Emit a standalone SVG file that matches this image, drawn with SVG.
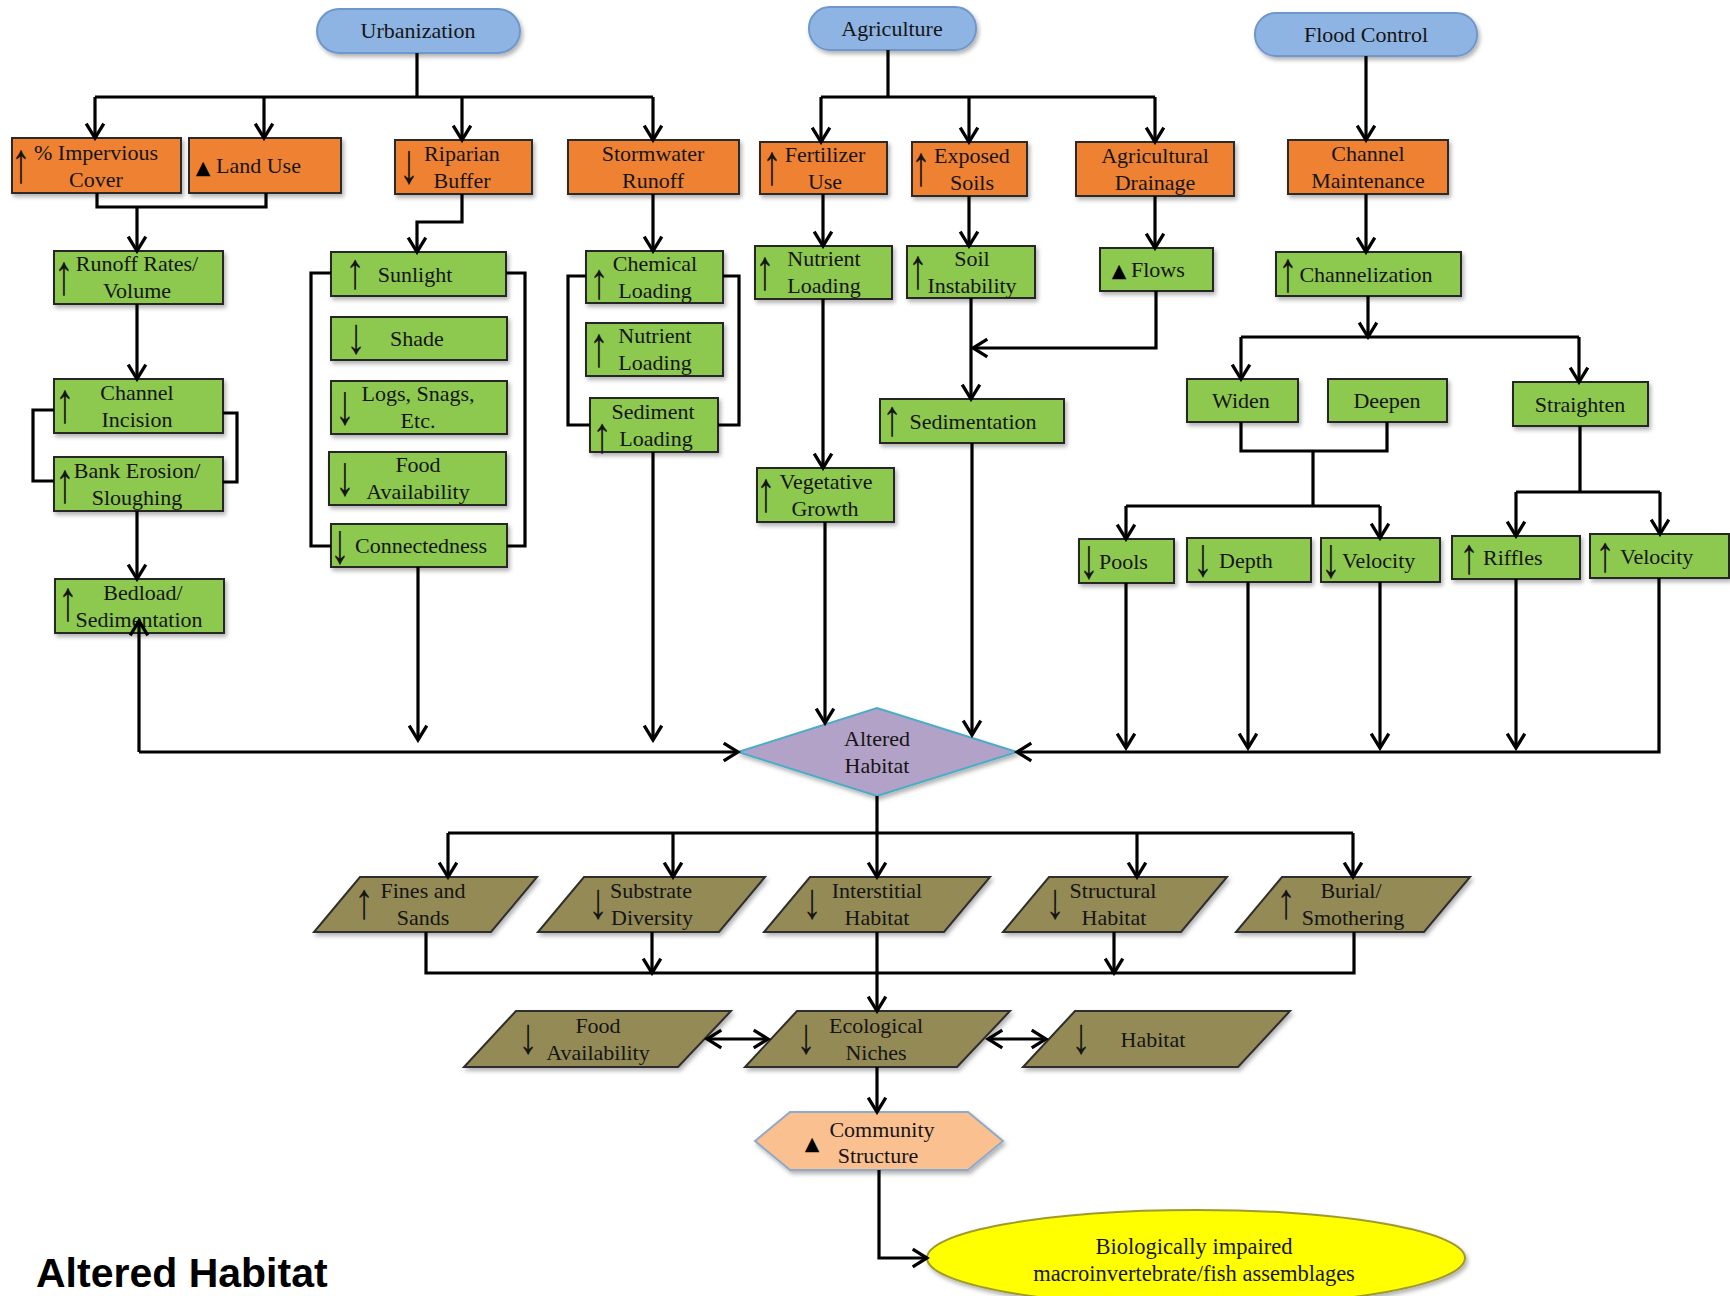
<svg xmlns="http://www.w3.org/2000/svg" width="1730" height="1296" viewBox="0 0 1730 1296">
<style>
.t{font-family:"Liberation Serif","Times New Roman",serif;font-size:22px;fill:#151515;text-anchor:middle}
.ts{font-family:"Liberation Serif","Times New Roman",serif;font-size:22px;fill:#151515}
.ar{font-family:"Liberation Serif","DejaVu Serif",serif;font-size:44px;fill:#151515;text-anchor:middle}
.tri{font-family:"DejaVu Sans",sans-serif;font-size:19px;fill:#000;text-anchor:middle}
.pill{fill:#8EB4E3;stroke:#6F97CC;stroke-width:2;filter:url(#sh)}
.or{fill:#EF8232;stroke:#2a2a2a;stroke-width:2;filter:url(#sh)}
.gr{fill:#8DC850;stroke:#262626;stroke-width:2;filter:url(#sh)}
.ol{fill:#948A54;stroke:#2e2e2e;stroke-width:2;filter:url(#sh)}
.con{fill:none;stroke:#000;stroke-width:3.2}
.a{marker-end:url(#ah)}
</style>
<defs>
<filter id="sh" x="-10%" y="-10%" width="130%" height="140%">
<feDropShadow dx="2" dy="3" stdDeviation="2" flood-color="#000" flood-opacity="0.3"/>
</filter>
<marker id="ah" markerUnits="userSpaceOnUse" markerWidth="20" markerHeight="22" viewBox="-15 -10 17 20" refX="0" refY="0" orient="auto-start-reverse">
<path d="M-13,-8 L0,0 L-13,8" fill="none" stroke="#000" stroke-width="3"/>
</marker>
</defs>
<rect width="1730" height="1296" fill="#fff"/>

<g id="urbanization"><rect class="pill" x="317" y="9" width="203" height="44" rx="22"/><text class="t" x="418" y="38">Urbanization</text></g>
<g id="agriculture"><rect class="pill" x="809" y="7" width="167" height="43" rx="21"/><text class="t" x="892" y="36">Agriculture</text></g>
<g id="flood-control"><rect class="pill" x="1255" y="13" width="222" height="43" rx="21"/><text class="t" x="1366" y="42">Flood Control</text></g>

<g id="impervious"><rect class="or" x="12" y="138" width="169" height="55"/><text class="ar" transform="translate(21,181.5) scale(0.9,1.3)">↑</text><text class="t" x="96" y="160">% Impervious</text><text class="t" x="96" y="187">Cover</text></g>
<g id="land-use"><rect class="or" x="189" y="138" width="152" height="55"/><text class="tri" x="203" y="174">▲</text><text class="ts" x="216" y="173">Land Use</text></g>
<g id="riparian"><rect class="or" x="395" y="140" width="137" height="54"/><text class="ar" transform="translate(409,183) scale(0.9,1.3)">↓</text><text class="t" x="462" y="161">Riparian</text><text class="t" x="462" y="188">Buffer</text></g>
<g id="stormwater"><rect class="or" x="568" y="140" width="171" height="54"/><text class="t" x="653" y="161">Stormwater</text><text class="t" x="653" y="188">Runoff</text></g>
<g id="fertilizer"><rect class="or" x="760" y="142" width="127" height="52"/><text class="ar" transform="translate(772,184) scale(0.9,1.3)">↑</text><text class="t" x="825" y="162">Fertilizer</text><text class="t" x="825" y="189">Use</text></g>
<g id="exposed-soils"><rect class="or" x="912" y="142" width="115" height="54"/><text class="ar" transform="translate(921,185) scale(0.9,1.3)">↑</text><text class="t" x="972" y="163">Exposed</text><text class="t" x="972" y="190">Soils</text></g>
<g id="ag-drainage"><rect class="or" x="1076" y="142" width="158" height="54"/><text class="t" x="1155" y="163">Agricultural</text><text class="t" x="1155" y="190">Drainage</text></g>
<g id="channel-maintenance"><rect class="or" x="1288" y="140" width="160" height="54"/><text class="t" x="1368" y="161">Channel</text><text class="t" x="1368" y="188">Maintenance</text></g>

<g id="runoff-rates"><rect class="gr" x="54" y="251" width="169" height="53"/><text class="ar" transform="translate(64,293.5) scale(0.9,1.3)">↑</text><text class="t" x="137" y="271">Runoff Rates/</text><text class="t" x="137" y="298">Volume</text></g>
<g id="channel-incision"><rect class="gr" x="54" y="379" width="169" height="54"/><text class="ar" transform="translate(65,422) scale(0.9,1.3)">↑</text><text class="t" x="137" y="400">Channel</text><text class="t" x="137" y="427">Incision</text></g>
<g id="bank-erosion"><rect class="gr" x="54" y="457" width="169" height="54"/><text class="ar" transform="translate(65,502) scale(0.9,1.3)">↑</text><text class="t" x="137" y="478">Bank Erosion/</text><text class="t" x="137" y="505">Sloughing</text></g>
<g id="bedload"><rect class="gr" x="55" y="579" width="169" height="54"/><text class="ar" transform="translate(68,620) scale(0.9,1.3)">↑</text><text class="t" x="143" y="600">Bedload/</text><text class="t" x="139" y="627">Sedimentation</text></g>

<g id="sunlight"><rect class="gr" x="331" y="252" width="175" height="44"/><text class="ar" transform="translate(355,288) scale(0.9,1.15)">↑</text><text class="t" x="415" y="282">Sunlight</text></g>
<g id="shade"><rect class="gr" x="331" y="317" width="176" height="43"/><text class="ar" transform="translate(356,353) scale(0.9,1.15)">↓</text><text class="t" x="417" y="346">Shade</text></g>
<g id="logs"><rect class="gr" x="331" y="381" width="176" height="53"/><text class="ar" transform="translate(345,423.5) scale(0.9,1.3)">↓</text><text class="t" x="418" y="401">Logs, Snags,</text><text class="t" x="418" y="428">Etc.</text></g>
<g id="food-availability-1"><rect class="gr" x="329" y="452" width="177" height="53"/><text class="ar" transform="translate(345,494.5) scale(0.9,1.3)">↓</text><text class="t" x="418" y="472">Food</text><text class="t" x="418" y="499">Availability</text></g>
<g id="connectedness"><rect class="gr" x="331" y="524" width="176" height="43"/><text class="ar" transform="translate(340,563) scale(0.9,1.3)">↓</text><text class="t" x="421" y="553">Connectedness</text></g>

<g id="chemical-loading"><rect class="gr" x="586" y="251" width="137" height="52"/><text class="ar" transform="translate(599,298) scale(0.9,1.15)">↑</text><text class="t" x="655" y="271">Chemical</text><text class="t" x="655" y="298">Loading</text></g>
<g id="nutrient-loading-1"><rect class="gr" x="586" y="323" width="137" height="53"/><text class="ar" transform="translate(599,366) scale(0.9,1.3)">↑</text><text class="t" x="655" y="343">Nutrient</text><text class="t" x="655" y="370">Loading</text></g>
<g id="sediment-loading"><rect class="gr" x="590" y="398" width="128" height="54"/><text class="ar" transform="translate(602,452) scale(0.9,1.15)">↑</text><text class="t" x="653" y="419">Sediment</text><text class="t" x="656" y="446">Loading</text></g>

<g id="nutrient-loading-2"><rect class="gr" x="755" y="246" width="137" height="53"/><text class="ar" transform="translate(765,289) scale(0.9,1.3)">↑</text><text class="t" x="824" y="266">Nutrient</text><text class="t" x="824" y="293">Loading</text></g>
<g id="vegetative-growth"><rect class="gr" x="757" y="468" width="137" height="54"/><text class="ar" transform="translate(766,511) scale(0.9,1.3)">↑</text><text class="t" x="826" y="489">Vegetative</text><text class="t" x="825" y="516">Growth</text></g>
<g id="soil-instability"><rect class="gr" x="907" y="246" width="128" height="52"/><text class="ar" transform="translate(918,288) scale(0.9,1.3)">↑</text><text class="t" x="972" y="266">Soil</text><text class="t" x="972" y="293">Instability</text></g>
<g id="flows"><rect class="gr" x="1100" y="248" width="113" height="43"/><text class="tri" x="1119" y="277">▲</text><text class="ts" x="1131" y="277">Flows</text></g>
<g id="sedimentation"><rect class="gr" x="880" y="399" width="184" height="44"/><text class="ar" transform="translate(892,435) scale(0.9,1.15)">↑</text><text class="t" x="973" y="429">Sedimentation</text></g>

<g id="channelization"><rect class="gr" x="1276" y="252" width="185" height="44"/><text class="ar" transform="translate(1288,291) scale(0.9,1.3)">↑</text><text class="t" x="1366" y="282">Channelization</text></g>
<g id="widen"><rect class="gr" x="1187" y="379" width="111" height="43"/><text class="t" x="1241" y="408">Widen</text></g>
<g id="deepen"><rect class="gr" x="1328" y="379" width="119" height="43"/><text class="t" x="1387" y="408">Deepen</text></g>
<g id="straighten"><rect class="gr" x="1513" y="382" width="135" height="44"/><text class="t" x="1580" y="412">Straighten</text></g>
<g id="pools"><rect class="gr" x="1079" y="539" width="95" height="44"/><text class="ar" transform="translate(1089,578) scale(0.9,1.3)">↓</text><text class="ts" x="1099" y="569">Pools</text></g>
<g id="depth"><rect class="gr" x="1187" y="538" width="124" height="44"/><text class="ar" transform="translate(1203,576) scale(0.9,1.25)">↓</text><text class="ts" x="1219" y="568">Depth</text></g>
<g id="velocity-down"><rect class="gr" x="1321" y="538" width="119" height="44"/><text class="ar" transform="translate(1331,577) scale(0.9,1.3)">↓</text><text class="ts" x="1342" y="568">Velocity</text></g>
<g id="riffles"><rect class="gr" x="1452" y="536" width="128" height="43"/><text class="ar" transform="translate(1469,573) scale(0.9,1.15)">↑</text><text class="ts" x="1483" y="565">Riffles</text></g>
<g id="velocity-up"><rect class="gr" x="1590" y="534" width="139" height="44"/><text class="ar" transform="translate(1605,571) scale(0.9,1.15)">↑</text><text class="ts" x="1620" y="564">Velocity</text></g>

<g id="altered-habitat"><polygon points="738,752 877,708 1017,752 877,796" fill="#B3A2C7" stroke="#4BACC6" stroke-width="2" filter="url(#sh)"/><text class="t" x="877" y="746">Altered</text><text class="t" x="877" y="773">Habitat</text></g>

<g id="fines-sands"><polygon class="ol" points="360,877 537,877 491,932 314,932"/><text class="ar" transform="translate(364,918) scale(0.9,1.15)">↑</text><text class="t" x="423" y="898">Fines and</text><text class="t" x="423" y="925">Sands</text></g>
<g id="substrate-diversity"><polygon class="ol" points="584,877 765,877 719,932 538,932"/><text class="ar" transform="translate(598,918) scale(0.9,1.15)">↓</text><text class="t" x="651" y="898">Substrate</text><text class="t" x="652" y="925">Diversity</text></g>
<g id="interstitial-habitat"><polygon class="ol" points="810,877 990,877 944,932 764,932"/><text class="ar" transform="translate(812,918) scale(0.9,1.15)">↓</text><text class="t" x="877" y="898">Interstitial</text><text class="t" x="877" y="925">Habitat</text></g>
<g id="structural-habitat"><polygon class="ol" points="1049,877 1227,877 1181,932 1003,932"/><text class="ar" transform="translate(1055,918) scale(0.9,1.15)">↓</text><text class="t" x="1113" y="898">Structural</text><text class="t" x="1114" y="925">Habitat</text></g>
<g id="burial-smothering"><polygon class="ol" points="1282,877 1470,877 1424,932 1236,932"/><text class="ar" transform="translate(1286,918) scale(0.9,1.15)">↑</text><text class="t" x="1351" y="898">Burial/</text><text class="t" x="1353" y="925">Smothering</text></g>

<g id="food-availability-2"><polygon class="ol" points="516,1011 731,1011 678,1067 464,1067"/><text class="ar" transform="translate(528,1053) scale(0.9,1.15)">↓</text><text class="t" x="598" y="1033">Food</text><text class="t" x="598" y="1060">Availability</text></g>
<g id="ecological-niches"><polygon class="ol" points="797,1011 1010,1011 957,1067 745,1067"/><text class="ar" transform="translate(806,1053) scale(0.9,1.15)">↓</text><text class="t" x="876" y="1033">Ecological</text><text class="t" x="876" y="1060">Niches</text></g>
<g id="habitat"><polygon class="ol" points="1075,1011 1290,1011 1238,1067 1023,1067"/><text class="ar" transform="translate(1081,1053) scale(0.9,1.15)">↓</text><text class="t" x="1153" y="1047">Habitat</text></g>

<g id="community-structure"><polygon points="755,1141 790,1112 968,1112 1003,1141 968,1170 790,1170" fill="#FBC08F" stroke="#8FA9C8" stroke-width="2" filter="url(#sh)"/><text class="tri" x="812" y="1150">▲</text><text class="t" x="882" y="1137">Community</text><text class="t" x="878" y="1163">Structure</text></g>

<g id="impaired"><ellipse cx="1196" cy="1258" rx="269" ry="48" fill="#FFFF00" stroke="#9E9A2E" stroke-width="2" filter="url(#sh)"/><text class="t" x="1194" y="1254" style="font-size:22.5px">Biologically impaired</text><text class="t" x="1194" y="1281" style="font-size:22.5px">macroinvertebrate/fish assemblages</text></g>

<text x="36" y="1287" font-family="Liberation Sans, Arial, sans-serif" font-weight="bold" font-size="41" fill="#000">Altered Habitat</text>

<g id="connectors">
<path class="con" d="M417,53 V97 M95,97 H653"/>
<path class="con a" d="M95,97 V138"/>
<path class="con a" d="M264,97 V138"/>
<path class="con a" d="M462,97 V140"/>
<path class="con a" d="M653,97 V140"/>
<path class="con" d="M97,193 V207 H266 V193"/>
<path class="con a" d="M137,207 V251"/>
<path class="con a" d="M137,304 V379"/>
<path class="con" d="M54,410 H33 V481 H54 M223,413 H237 V482 H223"/>
<path class="con a" d="M137,511 V579"/>
<path class="con a" d="M139,752 V621"/>
<path class="con a" d="M139,752 H738"/>
<path class="con a" d="M462,194 V222 H417 V252"/>
<path class="con" d="M331,273 H311 V546 H331 M506,273 H525 V546 H507"/>
<path class="con a" d="M418,567 V740"/>
<path class="con a" d="M653,194 V251"/>
<path class="con" d="M586,276 H568 V425 H590 M723,276 H739 V425 H718"/>
<path class="con a" d="M653,452 V740"/>

<path class="con" d="M888,50 V97 M821,97 H1155"/>
<path class="con a" d="M821,97 V142"/>
<path class="con a" d="M969,97 V142"/>
<path class="con a" d="M1155,97 V142"/>
<path class="con a" d="M823,194 V246"/>
<path class="con a" d="M823,299 V468"/>
<path class="con a" d="M825,522 V723"/>
<path class="con a" d="M969,196 V246"/>
<path class="con a" d="M971,298 V399"/>
<path class="con a" d="M1155,196 V248"/>
<path class="con a" d="M1156,291 V348 H973"/>
<path class="con a" d="M972,443 V735"/>

<path class="con a" d="M1366,56 V140"/>
<path class="con a" d="M1366,194 V252"/>
<path class="con a" d="M1368,296 V337"/>
<path class="con" d="M1241,337 H1579"/>
<path class="con a" d="M1241,337 V379"/>
<path class="con a" d="M1579,337 V382"/>
<path class="con" d="M1241,422 V451 H1387 V422 M1313,451 V506 M1126,506 H1380"/>
<path class="con a" d="M1126,506 V539"/>
<path class="con a" d="M1380,506 V538"/>
<path class="con" d="M1580,426 V492 M1516,492 H1660"/>
<path class="con a" d="M1516,492 V536"/>
<path class="con a" d="M1660,492 V534"/>
<path class="con a" d="M1126,583 V748"/>
<path class="con a" d="M1248,582 V748"/>
<path class="con a" d="M1380,582 V748"/>
<path class="con a" d="M1516,579 V748"/>
<path class="con a" d="M1659,578 V752 H1017"/>

<path class="con" d="M877,796 V833 M448,833 H1353"/>
<path class="con a" d="M448,833 V877"/>
<path class="con a" d="M673,833 V877"/>
<path class="con a" d="M877,833 V877"/>
<path class="con a" d="M1137,833 V877"/>
<path class="con a" d="M1353,833 V877"/>
<path class="con" d="M426,932 V973 H1354 V932"/>
<path class="con a" d="M652,932 V973"/>
<path class="con a" d="M1114,932 V973"/>
<path class="con a" d="M877,932 V1011"/>
<path class="con a" style="marker-start:url(#ah)" d="M707,1039 H768"/>
<path class="con a" style="marker-start:url(#ah)" d="M988,1039 H1046"/>
<path class="con a" d="M877,1067 V1112"/>
<path class="con a" d="M879,1170 V1258 H927"/>
</g>
</svg>
